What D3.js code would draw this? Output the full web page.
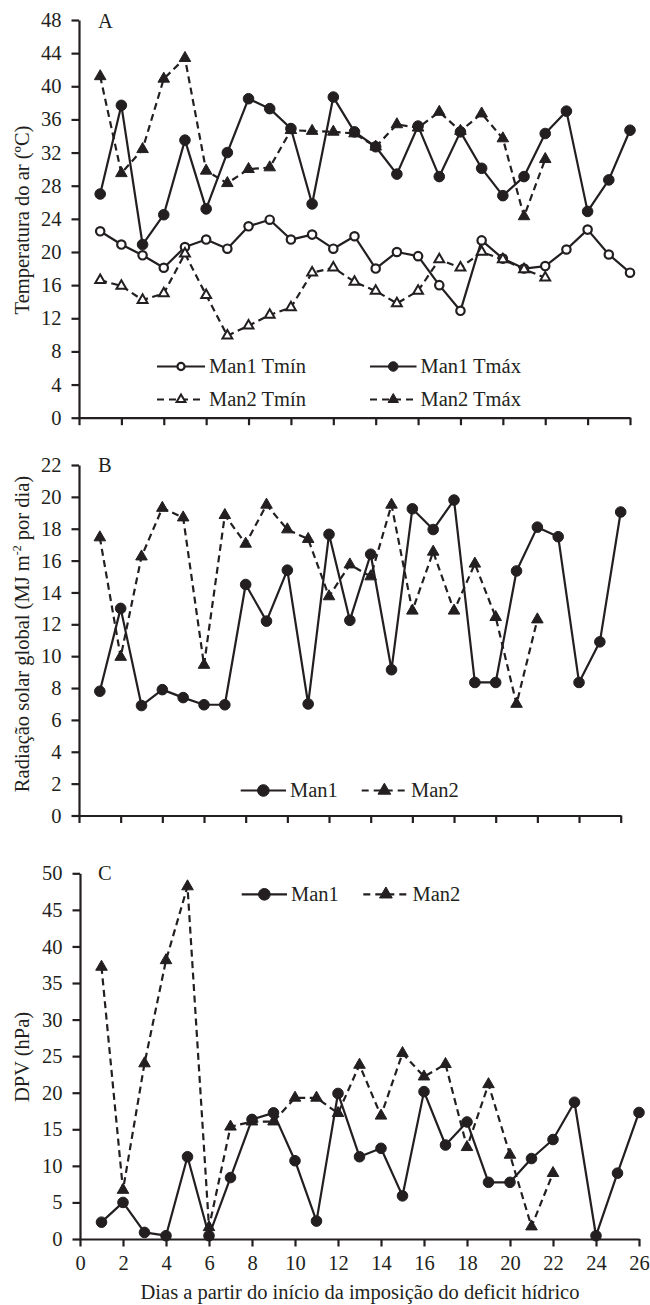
<!DOCTYPE html>
<html><head><meta charset="utf-8">
<script src="https://cdn.jsdelivr.net/npm/d3@7/dist/d3.min.js"></script>
<style>
body{margin:0;background:#fff;}
</style></head><body>
<svg id="chart" width="650" height="1305"></svg>
<script>
// ---------- data ----------
const daysMan1 = [1,2,3,4,5,6,7,8,9,10,11,12,13,14,15,16,17,18,19,20,21,22,23,24,25,26];
const daysMan2 = [1,2,3,4,5,6,7,8,9,10,11,12,13,14,15,16,17,18,19,20,21,22];

// Panel A: air temperature (ºC)
const man1Tmin = [22.5,20.9,19.6,18.1,20.6,21.5,20.4,23.1,23.9,21.5,22.1,20.4,21.9,18.0,20.0,19.5,16.0,12.9,21.4,19.2,18.0,18.3,20.3,22.7,19.7,17.5];
const man1Tmax = [27.0,37.7,20.9,24.5,33.5,25.2,32.0,38.5,37.3,34.9,25.8,38.7,34.5,32.7,29.4,35.2,29.1,34.5,30.1,26.8,29.1,34.3,37.0,24.9,28.7,34.7];
const man2Tmin = [16.6,15.9,14.2,15.0,19.8,14.8,9.9,11.1,12.4,13.3,17.5,18.1,16.4,15.3,13.8,15.3,19.1,18.1,20.0,19.1,17.9,16.9];
const man2Tmax = [41.2,29.5,32.4,40.9,43.4,29.8,28.3,30.0,30.2,34.7,34.6,34.5,34.3,32.7,35.4,35.0,36.9,34.6,36.7,33.7,24.3,31.2];

// Panel B: global solar radiation (MJ m-2 por dia)
const man1Rad = [7.8,13.0,6.9,7.9,7.4,6.95,6.95,14.5,12.2,15.4,7.0,17.65,12.25,16.4,9.15,19.25,17.95,19.8,8.35,8.35,15.35,18.1,17.5,8.35,10.9,19.05];
const man2Rad = [17.45,9.95,16.25,19.3,18.7,9.45,18.85,17.05,19.5,17.95,17.35,13.75,15.75,15.0,19.5,12.85,16.55,12.85,15.8,12.45,7.0,12.3];

// Panel C: vapour pressure deficit (hPa)
const man1DPV = [2.3,5.0,0.9,0.45,11.25,0.45,8.4,16.35,17.25,10.7,2.45,19.9,11.25,12.4,5.9,20.15,12.85,16.0,7.75,7.75,11.0,13.6,18.7,0.45,9.0,17.3];
const man2DPV = [37.2,6.7,24.0,38.1,48.2,1.6,15.35,16.05,16.05,19.3,19.3,17.2,23.8,16.85,25.4,22.2,23.9,12.55,21.15,11.5,1.7,9.0];

// ticks and labels
const xTicks = [0,2,4,6,8,10,12,14,16,18,20,22,24,26];
const yTicksA = [0,4,8,12,16,20,24,28,32,36,40,44,48];
const yTicksB = [0,2,4,6,8,10,12,14,16,18,20,22];
const yTicksC = [0,5,10,15,20,25,30,35,40,45,50];
const titleA = "Temperatura do ar (ºC)";
const titleC = "DPV (hPa)";
const titleX = "Dias a partir do início da imposição do deficit hídrico";
const legendA = ["Man1 Tmín","Man1 Tmáx","Man2 Tmín","Man2 Tmáx"];
const legendBC = ["Man1","Man2"];

// ---------- drawing ----------
const INK = "#231f20";
const FS = 20.5;
const FONT = "'Liberation Serif', 'Times New Roman', serif";
const svg = d3.select("#chart");

const triSym = (s) => d3.symbol().type(d3.symbolTriangle).size(s);

function drawMarker(g, kind, filled, cx, cy, scale) {
  if (kind === "circle") {
    const r = filled ? 5.3*scale : 4.2*scale;
    g.append("circle").attr("cx",cx).attr("cy",cy).attr("r",r)
      .attr("fill", filled ? INK : "#fff").attr("stroke",INK).attr("stroke-width", filled?1:2.2);
  } else {
    const s = filled ? 58*scale*scale : 42*scale*scale;
    g.append("path").attr("d", triSym(s)()).attr("transform",`translate(${cx},${cy})`)
      .attr("fill", filled ? INK : "#fff").attr("stroke",INK).attr("stroke-width", filled?1:2)
      .attr("stroke-linejoin","miter");
  }
}

function panel(cfg) {
  const x = d3.scaleLinear().domain([0,26]).range(cfg.xr);
  const y = d3.scaleLinear().domain([cfg.yTicks[0], cfg.yTicks[cfg.yTicks.length-1]]).range(cfg.yr);
  const g = svg.append("g");

  const xAxis = d3.axisBottom(x).tickValues(xTicks).tickSize(7.5).tickSizeOuter(0).tickPadding(9)
    .tickFormat(cfg.xLabels ? d3.format("d") : "");
  const yAxis = d3.axisLeft(y).tickValues(cfg.yTicks).tickSize(7.5).tickSizeOuter(0).tickPadding(10)
    .tickFormat(d3.format("d"));

  const ax = g.append("g").attr("transform",`translate(0,${cfg.yr[0]})`).call(xAxis);
  const ay = g.append("g").attr("transform",`translate(${cfg.xr[0]},0)`).call(yAxis);
  [ax, ay].forEach(a => {
    a.attr("font-family", null).attr("font-size", null);
    a.select(".domain").attr("stroke",INK).attr("stroke-width",2.2);
    a.selectAll(".tick line").attr("stroke",INK).attr("stroke-width",2.2);
    a.selectAll(".tick text").attr("font-size",FS).attr("fill",INK);
  });
  ax.selectAll(".tick text").attr("dy","0.72em");

  // panel letter
  g.append("text").attr("x",98).attr("y",cfg.letterY).attr("font-size",FS).attr("fill",INK).text(cfg.letter);

  // y title
  const t = g.append("text").attr("transform",`translate(29,${cfg.titleY}) rotate(-90)`)
    .attr("text-anchor","middle").attr("font-size",FS).attr("fill",INK);
  cfg.title(t);

  const line = d3.line().x(d => x(d[0])).y(d => y(d[1]));
  cfg.series.forEach(s => {
    const pts = s.days.map((d,i) => [d, s.values[i]]);
    g.append("path").datum(pts).attr("d",line).attr("fill","none").attr("stroke",INK)
      .attr("stroke-width",2.2).attr("stroke-dasharray", s.dashed ? "7,4.5" : null)
      .attr("stroke-linejoin","round");
  });
  cfg.series.forEach(s => {
    const mg = g.append("g");
    s.days.forEach((d,i) => drawMarker(mg, s.marker, s.filled, x(d), y(s.values[i]), 1));
  });

  // legend
  cfg.legend.forEach(L => {
    const lg = g.append("g");
    lg.append("line").attr("x1",L.x1).attr("x2",L.x2).attr("y1",L.y).attr("y2",L.y)
      .attr("stroke",INK).attr("stroke-width",2.2).attr("stroke-dasharray", L.s.dashed ? "7,5" : null);
    drawMarker(lg, L.s.marker, L.s.filled, (L.x1+L.x2)/2, L.y, L.ms);
    lg.append("text").attr("x",L.x2+4).attr("y",L.y).attr("dy","0.34em").attr("font-size",FS).attr("fill",INK).text(L.label);
  });
}

const sA = [
  {days:daysMan1, values:man1Tmin, dashed:false, marker:"circle", filled:false},
  {days:daysMan1, values:man1Tmax, dashed:false, marker:"circle", filled:true},
  {days:daysMan2, values:man2Tmin, dashed:true, marker:"triangle", filled:false},
  {days:daysMan2, values:man2Tmax, dashed:true, marker:"triangle", filled:true}
];
panel({
  xr:[79,630], yr:[417.7,20], yTicks:yTicksA, xLabels:false, letter:"A", letterY:28.3, titleY:220,
  title: t => t.text(titleA),
  series:[sA[0],sA[1],sA[2],sA[3]],
  legend:[
    {x1:157,x2:205,y:366.5,s:sA[0],label:legendA[0],ms:0.85},
    {x1:370,x2:416.5,y:366.5,s:sA[1],label:legendA[1],ms:0.9},
    {x1:157,x2:205,y:399.5,s:sA[2],label:legendA[2],ms:0.9},
    {x1:370,x2:416.5,y:399.5,s:sA[3],label:legendA[3],ms:0.9}
  ]
});

const sB = [
  {days:daysMan1, values:man1Rad, dashed:false, marker:"circle", filled:true},
  {days:daysMan2, values:man2Rad, dashed:true, marker:"triangle", filled:true}
];
panel({
  xr:[79,620.7], yr:[815.5,465], yTicks:yTicksB, xLabels:false, letter:"B", letterY:471.7, titleY:634,
  title: t => {
    t.append("tspan").text("Radiação solar global (MJ m");
    t.append("tspan").attr("dy",-8).attr("font-size",12).text("-2");
    t.append("tspan").attr("dy",8).text(" por dia)");
  },
  series:sB,
  legend:[
    {x1:240.7,x2:286,y:790.5,s:sB[0],label:legendBC[0],ms:1.1},
    {x1:361.7,x2:407,y:790.5,s:sB[1],label:legendBC[1],ms:1.1}
  ]
});

const sC = [
  {days:daysMan1, values:man1DPV, dashed:false, marker:"circle", filled:true},
  {days:daysMan2, values:man2DPV, dashed:true, marker:"triangle", filled:true}
];
panel({
  xr:[80,639], yr:[1239,873.3], yTicks:yTicksC, xLabels:true, letter:"C", letterY:879.5, titleY:1057,
  title: t => t.text(titleC),
  series:sC,
  legend:[
    {x1:241.7,x2:287,y:894.3,s:sC[0],label:legendBC[0],ms:1.1},
    {x1:363.3,x2:408.5,y:894.3,s:sC[1],label:legendBC[1],ms:1.1}
  ]
});

svg.append("text").attr("x",360).attr("y",1299).attr("text-anchor","middle").attr("font-size",FS).attr("fill",INK).text(titleX);

svg.selectAll("text").style("font-family", FONT);
</script>
</body></html>
